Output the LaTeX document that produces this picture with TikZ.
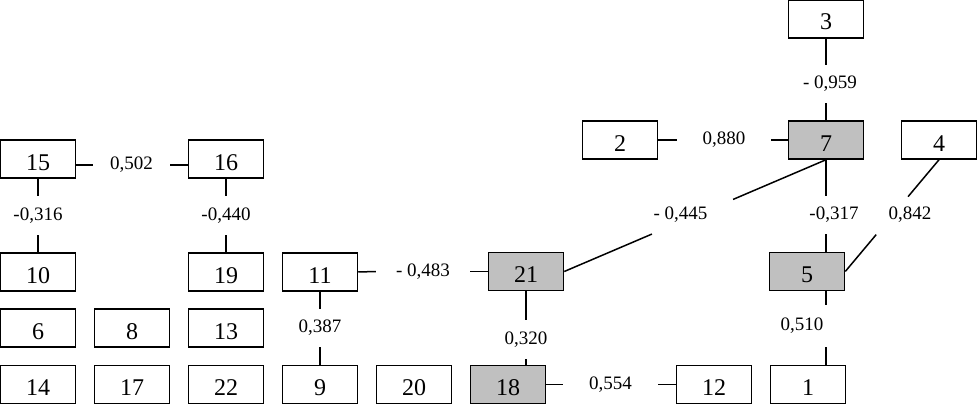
\documentclass[tikz,border=0pt]{standalone}
\usepackage{fontspec}
\setmainfont{Liberation Serif}
\usetikzlibrary{calc}
\definecolor{boxgray}{RGB}{192,192,192}
\begin{document}
\begin{tikzpicture}[x=1pt,y=-1pt,
  box/.style={draw,line width=1.5pt,minimum width=75pt,minimum height=38pt,inner sep=0pt,
    font=\fontsize{24}{28}\selectfont,text height=22pt,text depth=0pt},
  hi/.style={box,fill=boxgray},
  lab/.style={inner sep=0pt,font=\fontsize{19}{22}\selectfont},
  conn/.style={line width=1.5pt}]
\useasboundingbox (0,0) rectangle (977,404);
% boxes
\node[box] (b3)  at (826,19)    {3};
\node[box] (b2)  at (620,140)   {2};
\node[hi]  (b7)  at (826,140)   {7};
\node[box] (b4)  at (939,140)   {4};
\node[box] (b15) at (38,159)    {15};
\node[box] (b16) at (226,159)   {16};
\node[box] (b10) at (38,272)    {10};
\node[box] (b19) at (226,272)   {19};
\node[box] (b11) at (320,272)   {11};
\node[hi]  (b21) at (526,271.5) {21};
\node[hi]  (b5)  at (807,271.5) {5};
\node[box] (b6)  at (38,328)    {6};
\node[box] (b8)  at (132,328)   {8};
\node[box] (b13) at (226,328)   {13};
\node[box] (b14) at (38,384.5)  {14};
\node[box] (b17) at (132,384.5) {17};
\node[box] (b22) at (226,384.5) {22};
\node[box] (b9)  at (320,384.5) {9};
\node[box] (b20) at (414,384.5) {20};
\node[hi]  (b18) at (508,384.5) {18};
\node[box] (b12) at (714,384.5) {12};
\node[box] (b1)  at (808,384.5) {1};
% labels
\node[lab,minimum width=77pt]  (l502) at (131.5,165) {0,502};
\node[lab,minimum width=94pt]  (l880) at (724,140)   {0,880};
\node[lab,minimum width=94pt]  (l483) at (423,271.5) {-\ 0,483};
\node[lab,minimum width=95pt]  (l554) at (610.5,384.5) {0,554};
\node[lab,minimum height=39pt] (l316) at (38,215.5)  {-0,316};
\node[lab,minimum height=39pt] (l440) at (226,215.5) {-0,440};
\node[lab,minimum height=38pt] (l959) at (830,84)    {-\ 0,959};
\node[lab,minimum height=38pt] (l387) at (320,328)   {0,387};
\node[lab,minimum height=39pt] (l320) at (526,339.5) {0,320};
\node[lab,minimum height=38pt] (l317) at (834,215)   {-0,317};
\node[lab,minimum height=42pt] (l510) at (802,326)   {0,510};
\node[lab] (l445) at (680.5,215) {-\ 0,445};
\node[lab] (l842) at (910,215)   {0,842};
% connectors
\draw[conn] (b15.east |- l502) -- (l502.west);
\draw[conn] (l502.east) -- (b16.west |- l502);
\draw[conn] (b2.east) -- (l880.west);
\draw[conn] (l880.east) -- (b7.west);
\draw[conn] (b11.east) -- (l483.west);
\draw[conn] (l483.east) -- (b21.west);
\draw[conn] (b18.east) -- (l554.west);
\draw[conn] (l554.east) -- (b12.west);
\draw[conn] (b15.south) -- (l316.north);
\draw[conn] (l316.south) -- (b10.north);
\draw[conn] (b16.south) -- (l440.north);
\draw[conn] (l440.south) -- (b19.north);
\draw[conn] (b3.south) -- (l959.north -| b3);
\draw[conn] (l959.south -| b3) -- (b7.north);
\draw[conn] (b11.south) -- (l387.north);
\draw[conn] (l387.south) -- (b9.north);
\draw[conn] (b21.south) -- (l320.north);
\draw[conn] (l320.south) -- (b18.north -| b21);
\draw[conn] (b7.south) -- (l317.north -| b7);
\draw[conn] (l317.south -| b7) -- (b5.north -| b7);
\draw[conn] (b5.south -| b7) -- (l510.north -| b7);
\draw[conn] (l510.south -| b7) -- (b1.north -| b7);
\draw[conn] (b7.south) -- ($(b7.south)!0.355!(b21.east)$);
\draw[conn] ($(b7.south)!0.665!(b21.east)$) -- (b21.east);
\draw[conn] (b4.south) -- ($(b4.south)!0.33!(b5.east)$);
\draw[conn] ($(b4.south)!0.67!(b5.east)$) -- (b5.east);
\end{tikzpicture}
\end{document}
